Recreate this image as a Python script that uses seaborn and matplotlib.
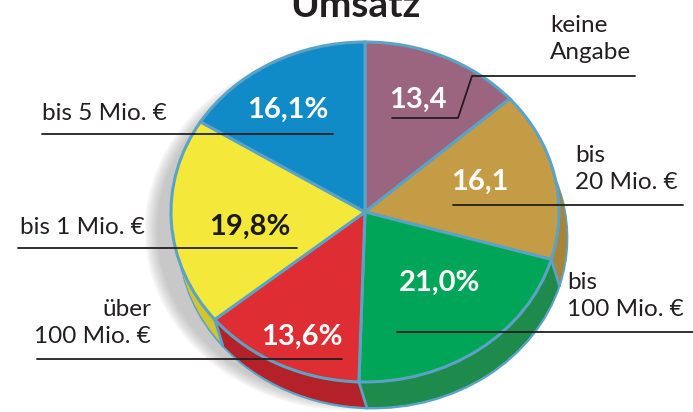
import numpy as np
import matplotlib
matplotlib.use("Agg")
import matplotlib.pyplot as plt
import seaborn as sns
from matplotlib.patches import Ellipse

sns.set_theme(style="white")
plt.rcParams['font.family'] = ['Lato', 'DejaVu Sans']

# ---------------- data ----------------
categories = ["keine\nAngabe", "bis\n20 Mio. €", "bis\n100 Mio. €", "über\n100 Mio. €", "bis 1 Mio. €", "bis 5 Mio. €"]
values = [13.4, 16.1, 21.0, 13.6, 19.8, 16.1]
value_labels = ["13,4", "16,1", "21,0%", "13,6%", "19,8%", "16,1%"]
top_colors = ["#9b6580", "#c49c45", "#00a557", "#de2e34", "#f4e93b", "#118bc8"]
side_colors = ["#7a4d63", "#a6843a", "#1e8a4b", "#b42128", "#d3c52f", "#0c6d9f"]
value_text_colors = ["white", "white", "white", "white", "#1a1a1a", "white"]
title = "Umsatz"

W, H = 693, 412
fig = plt.figure(figsize=(W / 100, H / 100), dpi=100)

# pie geometry (pixels)
cx, cy, rx, ry = 365, 212, 194, 170
depth_px, shift_px = 26, 8

ax = fig.add_axes([0, 0, 1, 1])
def px2d(x, y):
    return (x - cx) / rx, (cy - y) / ry

# shadow (left side, soft)
for k in range(8):
    e = Ellipse(px2d(cx - 14, cy + 18), 2 + 0.018 * k, 2 + 0.018 * k,
                facecolor="#8a8a8a", edgecolor="none", alpha=0.07, zorder=0)
    ax.add_patch(e)

dx, dy = shift_px / rx, depth_px / ry
N = 26
# bottom layer with outline
ax.pie(values, colors=side_colors, startangle=90, counterclock=False,
       center=(dx, -dy), radius=1,
       wedgeprops=dict(edgecolor="#5ba3c6", linewidth=2))
for i in range(N - 1, 0, -1):
    ax.pie(values, colors=side_colors, startangle=90, counterclock=False,
           center=(dx * i / N, -dy * i / N), radius=1,
           wedgeprops=dict(edgecolor="none", linewidth=0))

# side seams
angles = 90 - np.concatenate([[0], np.cumsum(values)]) / sum(values) * 360
for a in angles:
    r = np.deg2rad(a)
    x0, y0 = np.cos(r), np.sin(r)
    if y0 < 0.05:
        ax.plot([x0, x0 + dx], [y0, y0 - dy], color="#5ba3c6", lw=2, zorder=5)

# top face
ax.pie(values, colors=top_colors, startangle=90, counterclock=False,
       center=(0, 0), radius=1,
       wedgeprops=dict(edgecolor="#5ba3c6", linewidth=2.2))
ax.set_aspect("auto")
ax.set_xlim(-cx / rx, (W - cx) / rx)
ax.set_ylim((cy - H) / ry, cy / ry)
ax.axis("off")

# overlay for text (pixel coordinates)
ov = fig.add_axes([0, 0, 1, 1], zorder=10)
ov.set_xlim(0, W)
ov.set_ylim(H, 0)
ov.axis("off")
ov.patch.set_alpha(0)

ov.text(355, 17, title, ha="center", va="baseline", fontsize=28, fontweight="bold", color="#231f20")

# value labels
val_pos = [(418, 100), (480, 182), (440, 283), (302, 337), (250, 227), (288, 110)]
for (x, y), t, c in zip(val_pos, value_labels, value_text_colors):
    ov.text(x, y, t, ha="center", va="center", fontsize=21, fontweight="bold", color=c)

lc = "#231f20"
fs = 17.5
ls = 1.3
# bis 5 Mio
ov.text(42, 113, categories[5], ha="left", va="center", fontsize=fs, color=lc)
ov.plot([42, 333], [134, 134], color=lc, lw=1.3)
# bis 1 Mio
ov.text(20, 227, categories[4], ha="left", va="center", fontsize=fs, color=lc)
ov.plot([18, 297], [248, 248], color=lc, lw=1.3)
# über 100 Mio
ov.text(151, 323, categories[3], ha="right", va="center", fontsize=fs, color=lc,
        multialignment="right", linespacing=ls)
ov.plot([37, 342], [359, 359], color=lc, lw=1.3)
# keine Angabe
ov.text(550, 39, categories[0], ha="left", va="center", fontsize=fs, color=lc, linespacing=ls)
ov.plot([392, 458, 472, 635], [118, 118, 76, 76], color=lc, lw=1.3)
# bis 20 Mio
ov.text(575, 169, categories[1], ha="left", va="center", fontsize=fs, color=lc, linespacing=ls)
ov.plot([453, 683], [205, 205], color=lc, lw=1.3)
# bis 100 Mio
ov.text(567, 296, categories[2], ha="left", va="center", fontsize=fs, color=lc, linespacing=ls)
ov.plot([397, 693], [332, 332], color=lc, lw=1.3)

fig.savefig("out.png", dpi=100)
